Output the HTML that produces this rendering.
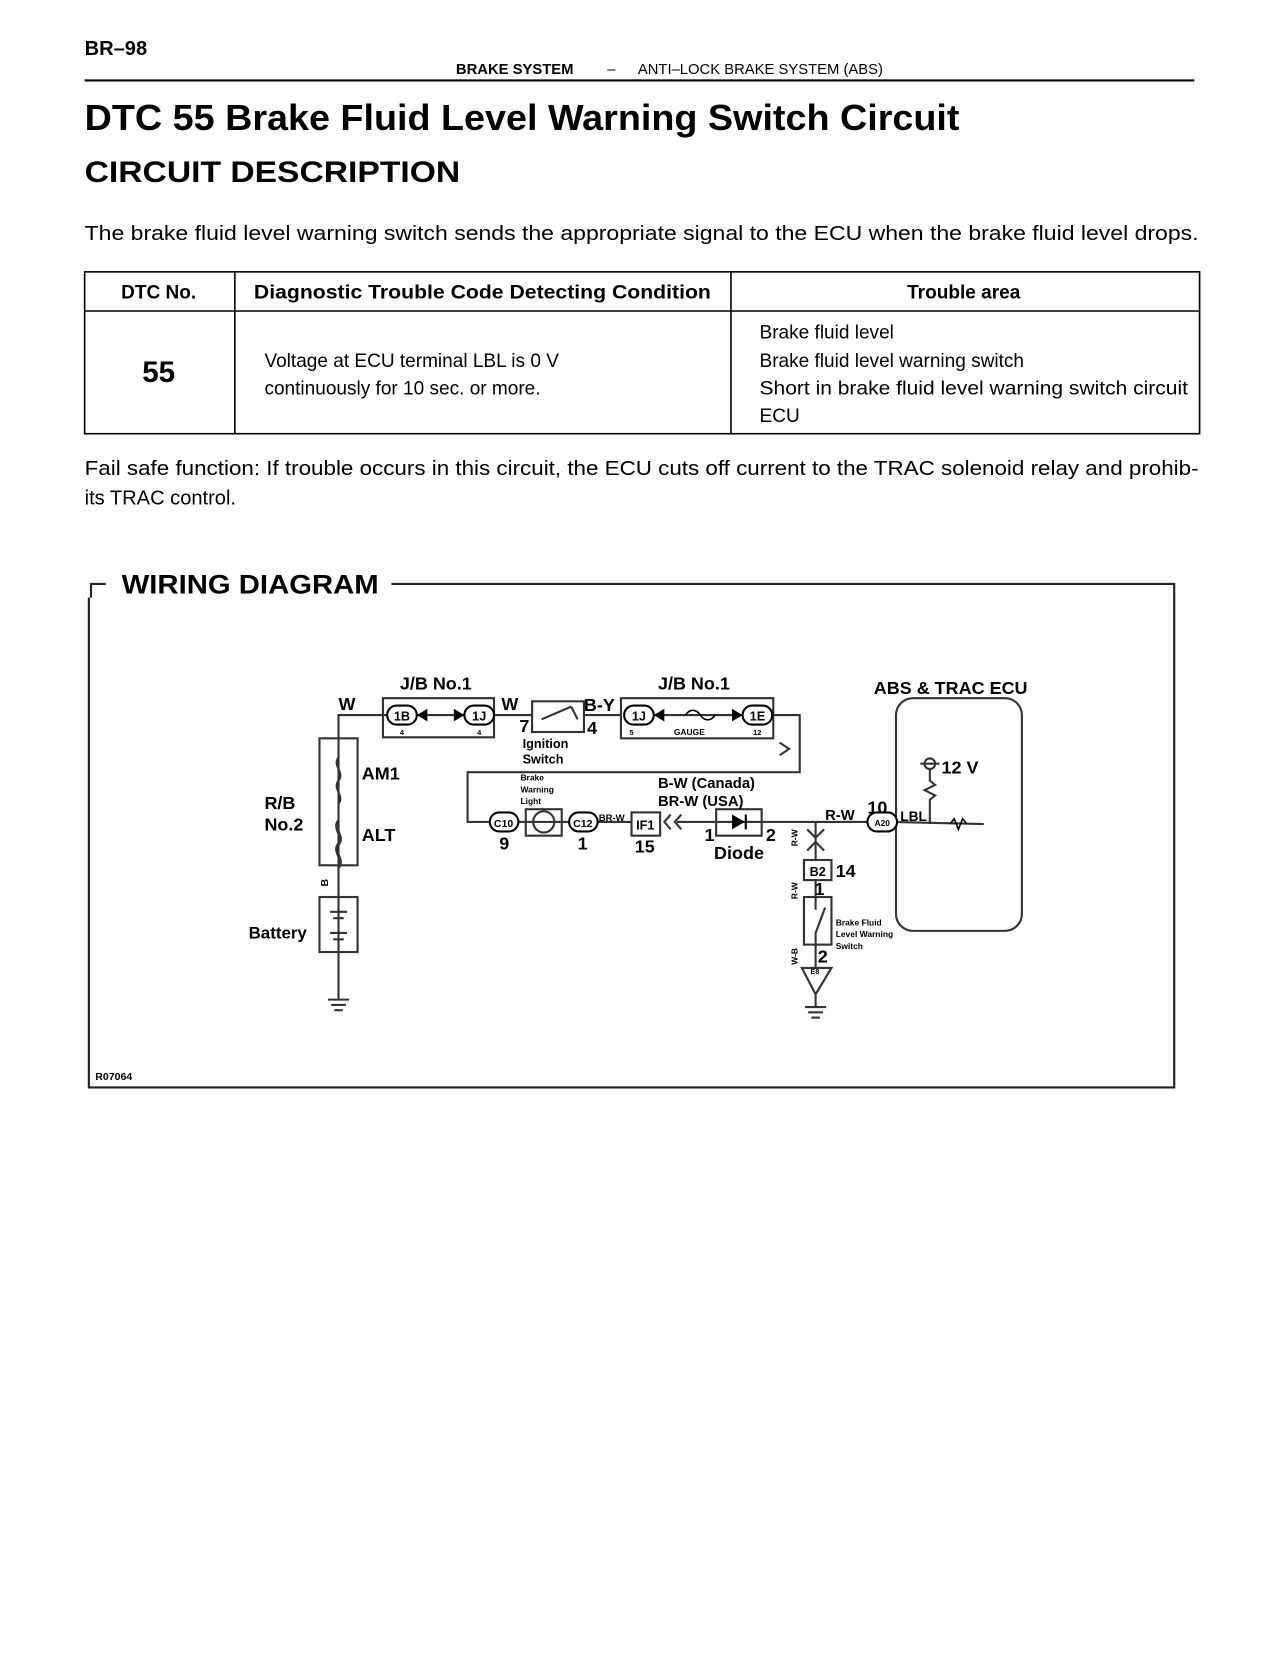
<!DOCTYPE html>
<html><head><meta charset="utf-8"><style>
html,body{margin:0;padding:0;background:#fff;}
svg{display:block;}
text{font-family:"Liberation Sans",sans-serif;fill:#000;}
.b{font-weight:bold;}
</style></head><body>
<svg width="1280" height="1656" viewBox="0 0 1210 1565.5" preserveAspectRatio="none" xmlns="http://www.w3.org/2000/svg">
<!-- header -->
<text x="80" y="52" class="b" font-size="19">BR–98</text>
<text x="431" y="70" class="b" font-size="14">BRAKE SYSTEM</text>
<text x="574" y="70" font-size="14">–</text>
<text x="603" y="70" font-size="14">ANTI–LOCK BRAKE SYSTEM (ABS)</text>
<line x1="80" y1="76" x2="1129" y2="76" stroke="#000" stroke-width="2"/>
<text x="80" y="123" class="b" font-size="34" textLength="827" lengthAdjust="spacingAndGlyphs">DTC 55 Brake Fluid Level Warning Switch Circuit</text>
<text x="80" y="172" class="b" font-size="28" textLength="355" lengthAdjust="spacingAndGlyphs">CIRCUIT DESCRIPTION</text>
<text x="80" y="227" font-size="19" textLength="1053" lengthAdjust="spacingAndGlyphs">The brake fluid level warning switch sends the appropriate signal to the ECU when the brake fluid level drops.</text>
<!-- table -->
<g stroke="#000" stroke-width="1.5" fill="none">
<rect x="80" y="257" width="1054" height="153"/>
<line x1="80" y1="294" x2="1134" y2="294"/>
<line x1="222" y1="257" x2="222" y2="410"/>
<line x1="691" y1="257" x2="691" y2="410"/>
</g>
<text x="150" y="282" class="b" font-size="18" text-anchor="middle">DTC No.</text>
<text x="456" y="282" class="b" font-size="18" text-anchor="middle" textLength="432" lengthAdjust="spacingAndGlyphs">Diagnostic Trouble Code Detecting Condition</text>
<text x="911" y="282" class="b" font-size="18" text-anchor="middle">Trouble area</text>
<text x="150" y="361" class="b" font-size="28" text-anchor="middle">55</text>
<text x="250" y="347" font-size="18">Voltage at ECU terminal LBL is 0 V</text>
<text x="250" y="373" font-size="18">continuously for 10 sec. or more.</text>
<text x="718" y="320" font-size="18">Brake fluid level</text>
<text x="718" y="347" font-size="18">Brake fluid level warning switch</text>
<text x="718" y="373" font-size="18" textLength="405" lengthAdjust="spacingAndGlyphs">Short in brake fluid level warning switch circuit</text>
<text x="718" y="399" font-size="18">ECU</text>
<text x="80" y="449" font-size="19" textLength="1053" lengthAdjust="spacingAndGlyphs">Fail safe function: If trouble occurs in this circuit, the ECU cuts off current to the TRAC solenoid relay and prohib-</text>
<text x="80" y="477" font-size="19">its TRAC control.</text>

<!-- wiring frame -->
<g stroke="#222" stroke-width="2" fill="none">
<polyline points="86,565 86,552 100,552"/>
<polyline points="370,552 1110,552 1110,1028 84,1028 84,565"/>
</g>
<text x="115" y="561" class="b" font-size="25" textLength="243" lengthAdjust="spacingAndGlyphs">WIRING DIAGRAM</text>
<text x="90" y="1021" class="b" font-size="10">R07064</text>

<g stroke="#333" stroke-width="2" fill="none">
<!-- left wire -->
<polyline points="362,676 320,676 320,945"/>
<rect x="302" y="698" width="36" height="120"/>
<rect x="302" y="848" width="36" height="52"/>
<path d="M320,716 c-6,8 6,14 0,22 c-6,8 6,14 0,22"/>
<path d="M320,776 c-6,8 6,14 0,22 c-6,8 6,14 0,22" stroke-width="3"/>
<line x1="312" y1="862" x2="328" y2="862"/><line x1="315" y1="868" x2="325" y2="868"/>
<line x1="312" y1="882" x2="328" y2="882"/><line x1="315" y1="888" x2="325" y2="888"/>
<line x1="310" y1="945" x2="330" y2="945"/><line x1="313" y1="950" x2="327" y2="950"/><line x1="316" y1="955" x2="324" y2="955"/>
<!-- J/B 1 -->
<rect x="362" y="660" width="105" height="37"/>
<line x1="362" y1="676" x2="503" y2="676"/>
<rect x="503" y="663" width="49" height="29"/>
<path d="M512,680 L540,668 M540,668 L546,680"/>
<line x1="552" y1="676" x2="587" y2="676"/>
<rect x="587" y="660" width="144" height="38"/>
<line x1="618" y1="676" x2="700" y2="676"/>
<polyline points="731,676 756,676 756,730 442,730 442,777 465,777"/>
<polyline points="737,702 746,708 737,714"/>
<rect x="497" y="765" width="34" height="25"/>
<circle cx="514" cy="777" r="10"/>
<line x1="487" y1="777" x2="540" y2="777"/>
<line x1="563" y1="777" x2="597" y2="777"/>
<rect x="597" y="768" width="27" height="22"/>
<polyline points="634,770 628,777 634,784"/><polyline points="644,770 638,777 644,784"/>
<line x1="640" y1="777" x2="822" y2="777"/>
<rect x="677" y="765" width="43" height="25"/>
<!-- down branch -->
<line x1="771" y1="777" x2="771" y2="940"/>
<polyline points="763,784 771,792 779,784"/><polyline points="763,804 771,796 779,804"/>
<rect x="760" y="813" width="26" height="19" fill="#fff"/>
<rect x="760" y="848" width="26" height="45" fill="#fff"/>
<path d="M771,848 L771,860 M771,882 L780,858 M771,882 L771,893"/>
<polygon points="758,915 786,915 771,940" fill="#fff"/>
<line x1="771" y1="940" x2="771" y2="952"/>
<line x1="761" y1="952" x2="781" y2="952"/><line x1="764" y1="957" x2="778" y2="957"/><line x1="767" y1="962" x2="775" y2="962"/>
<!-- ECU -->
<line x1="844" y1="777" x2="930" y2="779"/>
<rect x="847" y="660" width="119" height="220" rx="16"/>
<circle cx="879" cy="722" r="5"/>
<line x1="870" y1="722" x2="888" y2="722"/>
<polyline points="879,727 879,738 884,742 874,747 884,752 879,756 879,779"/>
</g>
<!-- connectors -->
<g stroke="#000" stroke-width="2" fill="#fff">
<rect x="366" y="667" width="28" height="18" rx="9"/>
<rect x="439" y="667" width="28" height="18" rx="9"/>
<rect x="590" y="667" width="28" height="18" rx="9"/>
<rect x="702" y="667" width="28" height="18" rx="9"/>
<rect x="463" y="768" width="27" height="18" rx="9"/>
<rect x="538" y="768" width="27" height="18" rx="9"/>
<rect x="820" y="768" width="28" height="18" rx="9"/>
</g>
<g fill="#000">
<polygon points="394,676 404,670 404,682"/><polygon points="439,676 429,670 429,682"/>
<polygon points="618,676 628,670 628,682"/><polygon points="702,676 692,670 692,682"/>
<polygon points="692,770 692,784 704,777"/><rect x="704" y="770" width="2" height="14"/>
</g>
<g stroke="#000" stroke-width="1.5" fill="none"><path d="M648,676 c4,-6 10,-6 14,0 c4,6 10,6 14,0"/></g>
<g font-size="12" class="b">
<text x="380" y="681" text-anchor="middle" class="b">1B</text>
<text x="453" y="681" text-anchor="middle" class="b">1J</text>
<text x="604" y="681" text-anchor="middle" class="b">1J</text>
<text x="716" y="681" text-anchor="middle" class="b">1E</text>
<text x="476" y="782" text-anchor="middle" font-size="10">C10</text>
<text x="551" y="782" text-anchor="middle" font-size="10">C12</text>
<text x="834" y="781" text-anchor="middle" font-size="8">A20</text>
<text x="610" y="784" text-anchor="middle">IF1</text>
<text x="773" y="828" text-anchor="middle">B2</text>
</g>
<g class="b" font-size="17">
<text x="378" y="652">J/B No.1</text>
<text x="622" y="652">J/B No.1</text>
<text x="826" y="656">ABS &amp; TRAC ECU</text>
<text x="320" y="671">W</text>
<text x="474" y="671">W</text>
<text x="552" y="672">B-Y</text>
<text x="491" y="692">7</text>
<text x="555" y="694">4</text>
<text x="342" y="737">AM1</text>
<text x="342" y="795">ALT</text>
<text x="250" y="765">R/B</text>
<text x="250" y="785">No.2</text>
<text x="235" y="887" font-size="16">Battery</text>
<text x="890" y="731">12 V</text>
<text x="820" y="769">10</text>
<text x="780" y="775" font-size="14">R-W</text>
<text x="851" y="776" font-size="13">LBL</text>
<text x="622" y="745" font-size="14">B-W (Canada)</text>
<text x="622" y="762" font-size="14">BR-W (USA)</text>
<text x="472" y="803">9</text>
<text x="546" y="803">1</text>
<text x="600" y="806">15</text>
<text x="666" y="795">1</text>
<text x="724" y="795">2</text>
<text x="675" y="812">Diode</text>
<text x="790" y="829">14</text>
<text x="770" y="846">1</text>
<text x="773" y="910">2</text>
</g>
<g class="b" font-size="12">
<text x="494" y="707">Ignition</text>
<text x="494" y="722">Switch</text>
<text x="566" y="776" font-size="9">BR-W</text>
</g>
<g class="b" font-size="8">
<text x="492" y="738">Brake</text><text x="492" y="749">Warning</text><text x="492" y="760">Light</text>
<text x="790" y="875">Brake Fluid</text><text x="790" y="886">Level Warning</text><text x="790" y="897">Switch</text>
<text x="595" y="695" font-size="7">5</text><text x="637" y="695">GAUGE</text><text x="712" y="695" font-size="7">12</text>
<text x="378" y="695" font-size="7">4</text><text x="451" y="695" font-size="7">4</text>
<text x="766" y="921" font-size="7">E8</text>
<text transform="translate(310,838) rotate(-90)" font-size="10">B</text>
<text transform="translate(754,800) rotate(-90)">R-W</text>
<text transform="translate(754,850) rotate(-90)">R-W</text>
<text transform="translate(754,912) rotate(-90)">W-B</text>
</g>
<g stroke="#000" stroke-width="1.5" fill="none"><polyline points="898,779 902,774 906,784 910,774 914,779"/></g>
</svg>
</body></html>
